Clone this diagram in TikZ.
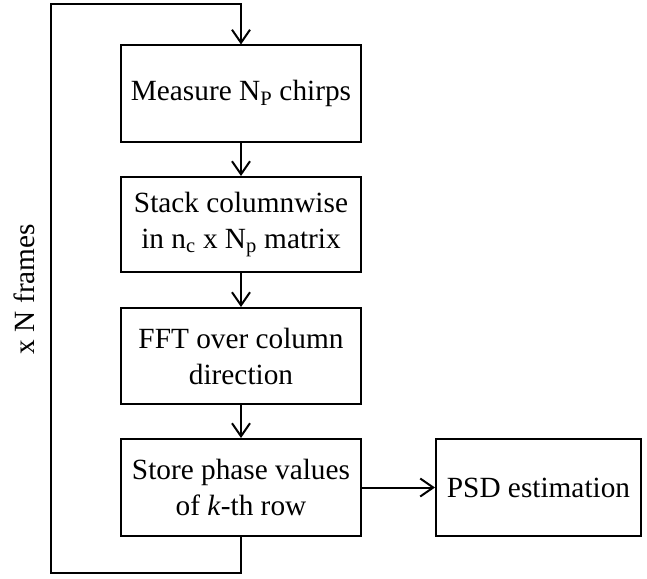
\documentclass[tikz,border=0pt]{standalone}
\usepackage{fontspec}
\setmainfont{Liberation Serif}
\usetikzlibrary{arrows.meta}
\begin{document}
\begin{tikzpicture}[x=1pt,y=1pt,
  box/.style={draw,line width=2pt,minimum width=240pt,minimum height=96pt,align=center,inner sep=0pt,font=\fontsize{29.3}{36}\selectfont},
  arr/.style={line width=2pt,-{Straight Barb[length=13pt,width=18pt,line width=2pt]}},
  ln/.style={line width=2pt}]
\useasboundingbox (0,0) rectangle (647,-578);
\node[box] (b1) at (241,-93.5) {Measure N\textsubscript{P} chirps};
\node[box,minimum height=95pt] (b2) at (241,-224.5) {Stack columnwise\\in n\textsubscript{c} x N\textsubscript{p} matrix};
\node[box] (b3) at (241,-356) {FFT over column\\direction};
\node[box,minimum height=97pt] (b4) at (241,-487.5) {Store phase values\\of \textit{k}-th row};
\node[box,minimum width=205pt,minimum height=97pt] (psd) at (538.5,-487.5) {PSD estimation};
\node[rotate=90,font=\fontsize{29.3}{36}\selectfont,inner sep=0pt] (lbl) at (24,-289) {x N frames};
\coordinate (lb) at (51,-573);
\coordinate (lt) at (51,-4);
\draw[arr] (b1) -- (b2);
\draw[arr] (b2) -- (b3);
\draw[arr] (b3) -- (b4);
\draw[arr] (b4) -- (psd);
\draw[arr] (b4.south) |- (lb) -- (lt) -| (b1.north);
\end{tikzpicture}
\end{document}
